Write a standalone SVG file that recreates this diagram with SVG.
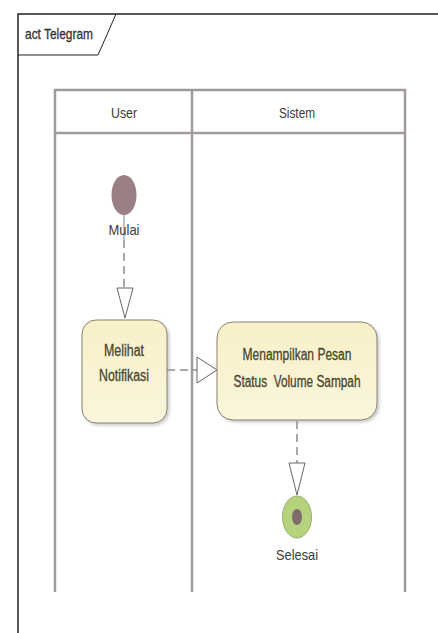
<svg xmlns="http://www.w3.org/2000/svg" width="438" height="633" viewBox="0 0 438 633">
  <defs>
    <linearGradient id="actFill" x1="0" y1="0" x2="0" y2="1">
      <stop offset="0" stop-color="#f7f0c8"/>
      <stop offset="1" stop-color="#fbf6dc"/>
    </linearGradient>
    <filter id="shadow" x="-20%" y="-20%" width="140%" height="140%">
      <feDropShadow dx="2" dy="2" stdDeviation="1.5" flood-color="#999" flood-opacity="0.5"/>
    </filter>
  </defs>
  <style>
    text { font-family: "Liberation Sans", Arial, sans-serif; fill: #3a3a3a; }
    .lbl { font-size: 15px; text-anchor: middle; }
    .act { font-size: 16px; text-anchor: middle; fill: #4a4530; stroke: #4a4530; stroke-width: 0.3; }
    .lane { fill: none; stroke: #a09a9a; stroke-width: 2.5; }
    .flow { fill: none; stroke: #555; stroke-width: 1; stroke-dasharray: 8 5; }
    .head { fill: #ffffff; stroke: #666; stroke-width: 1; }
    .action { fill: url(#actFill); stroke: #8a8270; stroke-width: 1; filter: url(#shadow); }
  </style>

  <rect x="0" y="0" width="438" height="633" fill="#ffffff"/>

  <!-- diagram frame -->
  <g id="frame">
    <path d="M18,633 L18,14 L438,14" fill="none" stroke="#222" stroke-width="1.5"/>
    <path d="M18,55 L98,55 L116,14" fill="none" stroke="#222" stroke-width="1"/>
    <text x="25" y="39" font-size="15" fill="#222" stroke="#222" stroke-width="0.3" textLength="68" lengthAdjust="spacingAndGlyphs">act Telegram</text>
  </g>

  <!-- swimlanes -->
  <g id="lanes">
    <rect class="lane" x="55" y="90" width="350" height="43"/>
    <line class="lane" x1="55" y1="133" x2="55" y2="592"/>
    <line class="lane" x1="405" y1="133" x2="405" y2="592"/>
    <line class="lane" x1="192" y1="90" x2="192" y2="592" stroke-width="3"/>
    <text class="lbl" x="124" y="118" textLength="26" lengthAdjust="spacingAndGlyphs">User</text>
    <text class="lbl" x="297" y="118" textLength="36" lengthAdjust="spacingAndGlyphs">Sistem</text>
  </g>

  <!-- control flows -->
  <g id="connectors">
    <line x1="124" y1="215" x2="124" y2="240" stroke="#6a8ab0" stroke-width="1"/>
    <line class="flow" x1="124" y1="240" x2="124" y2="288"/>
    <polygon class="head" points="117,288 133,288 125,318"/>
    <line class="flow" x1="167" y1="370" x2="197" y2="370"/>
    <polygon class="head" points="197,357 197,383 217,370"/>
    <line class="flow" x1="297" y1="421" x2="297" y2="463"/>
    <polygon class="head" points="289,463 305,463 297,495"/>
  </g>

  <!-- start node -->
  <g id="start">
    <ellipse cx="124" cy="195" rx="12.5" ry="20" fill="#9a8082"/>
    <text class="lbl" x="124" y="235" fill="#555" textLength="31" lengthAdjust="spacingAndGlyphs">Mulai</text>
  </g>

  <!-- action: Melihat Notifikasi -->
  <g id="melihat">
    <rect class="action" x="82" y="320" width="85" height="103" rx="14" ry="14"/>
    <text class="act" x="124" y="356" textLength="40" lengthAdjust="spacingAndGlyphs">Melihat</text>
    <text class="act" x="124" y="381" textLength="50" lengthAdjust="spacingAndGlyphs">Notifikasi</text>
  </g>

  <!-- action: Menampilkan Pesan -->
  <g id="menampilkan">
    <rect class="action" x="217" y="322" width="160" height="98" rx="16" ry="16"/>
    <text class="act" x="297" y="360" textLength="109" lengthAdjust="spacingAndGlyphs">Menampilkan Pesan</text>
    <text class="act" x="297" y="387" xml:space="preserve" textLength="127" lengthAdjust="spacingAndGlyphs">Status  Volume Sampah</text>
  </g>

  <!-- final node -->
  <g id="selesai">
    <ellipse cx="297" cy="517" rx="14.5" ry="21" fill="#b5d27c" stroke="#9ab070" stroke-width="1"/>
    <ellipse cx="297" cy="517" rx="5" ry="8" fill="#7e6c6c"/>
    <text class="lbl" x="297" y="560" fill="#555" textLength="42" lengthAdjust="spacingAndGlyphs">Selesai</text>
  </g>
</svg>
